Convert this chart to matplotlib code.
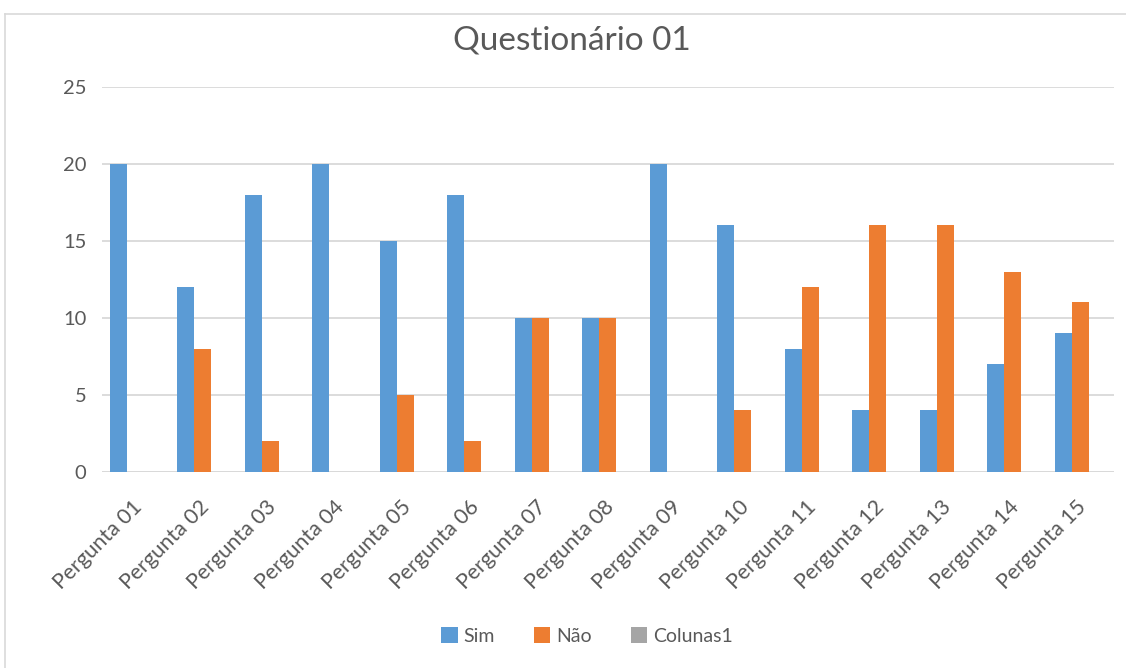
import matplotlib
matplotlib.use("Agg")
import matplotlib.pyplot as plt
import matplotlib.transforms as mtransforms
import numpy as np
from matplotlib.patches import Patch
from matplotlib.lines import Line2D

categories = ["Pergunta 01", "Pergunta 02", "Pergunta 03", "Pergunta 04", "Pergunta 05",
              "Pergunta 06", "Pergunta 07", "Pergunta 08", "Pergunta 09", "Pergunta 10",
              "Pergunta 11", "Pergunta 12", "Pergunta 13", "Pergunta 14", "Pergunta 15"]
sim = [20, 12, 18, 20, 15, 18, 10, 10, 20, 16, 8, 4, 4, 7, 9]
nao = [0, 8, 2, 0, 5, 2, 10, 10, 0, 4, 12, 16, 16, 13, 11]
colunas1 = [0] * 15
series_names = ["Sim", "Não", "Colunas1"]
yticks = [0, 5, 10, 15, 20, 25]
title = "Questionário 01"

colors = ["#5B9BD5", "#ED7D31", "#A5A5A5"]
text_color = "#595959"
grid_color = "#D9D9D9"

plt.rcParams['font.family'] = ['Lato', 'DejaVu Sans']

fig = plt.figure(figsize=(11.26, 6.68), dpi=100)
ax = fig.add_axes([101.7 / 1126, 1 - 472 / 668, (1114 - 101.7) / 1126, (472 - 86.7) / 668])

x = np.arange(len(categories))
w = 0.252
for i, (vals, name) in enumerate(zip([sim, nao, colunas1], series_names)):
    ax.bar(x + (i - 1) * w, vals, width=w, color=colors[i], label=name, zorder=3)

ax.set_xlim(-0.5, len(categories) - 0.5)
ax.set_ylim(0, 25)
ax.set_yticks(yticks)
ax.yaxis.grid(True, color=grid_color, linewidth=1.3, zorder=0)
for s in ["top", "right", "left", "bottom"]:
    ax.spines[s].set_visible(False)
ax.axhline(0, color=grid_color, linewidth=1.3, zorder=2)
ax.tick_params(axis="y", length=0, colors=text_color, labelsize=14.5, pad=11)
ax.set_xticks(x)
ax.set_xticklabels(categories, rotation=45, ha="right", rotation_mode="anchor")
ax.tick_params(axis="x", length=0, colors=text_color, labelsize=15.5, pad=18)
offset = mtransforms.ScaledTranslation(-4 / 100, 0, fig.dpi_scale_trans)
for lbl in ax.get_xticklabels():
    lbl.set_transform(lbl.get_transform() + offset)

fig.text(572 / 1126, 1 - 40 / 668, title, ha="center", va="center", fontsize=24, color=text_color)

handles = [Patch(facecolor=c, edgecolor="none") for c in colors]
fig.legend(handles, series_names, loc="center", bbox_to_anchor=(587 / 1126, 1 - 636 / 668),
           ncol=3, frameon=False, fontsize=14, labelcolor=text_color,
           handlelength=0.85, handleheight=0.85, handletextpad=0.3, columnspacing=2.0)

# chart area border (left and top visible)
fig.add_artist(Line2D([5 / 1126, 5 / 1126], [0, 1 - 14 / 668], color="#D9D9D9", linewidth=1.2,
                      transform=fig.transFigure))
fig.add_artist(Line2D([5 / 1126, 1], [1 - 14 / 668, 1 - 14 / 668], color="#D9D9D9", linewidth=1.2,
                      transform=fig.transFigure))

fig.savefig("out.png", dpi=100, facecolor="white")
